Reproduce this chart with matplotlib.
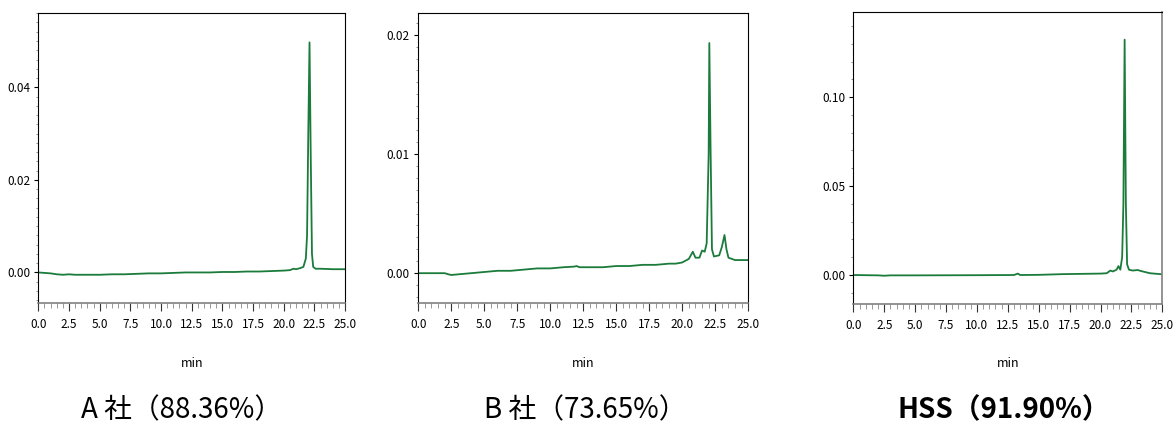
import numpy as np
import matplotlib
matplotlib.use('Agg')
import matplotlib.pyplot as plt
from matplotlib.ticker import MultipleLocator, FormatStrFormatter

plt.rcParams['font.family'] = ['Noto Sans CJK JP', 'DejaVu Sans']

# クロマトグラムのデータ
a_time = [0.0, 0.5, 1.0, 1.5, 2.0, 2.5, 3.0, 4.0, 5.0, 6.0, 7.0, 8.0, 9.0, 10.0,
          11.0, 12.0, 13.0, 14.0, 15.0, 16.0, 17.0, 18.0, 19.0, 20.0, 20.5, 20.8,
          21.0, 21.3, 21.6, 21.8, 21.9, 22.0, 22.1, 22.2, 22.3, 22.4, 22.6, 23.0,
          24.0, 25.0]
a_abs = [0.0000, -0.0001, -0.0002, -0.0004, -0.0005, -0.0004, -0.0005, -0.0005,
         -0.0005, -0.0004, -0.0004, -0.0003, -0.0002, -0.0002, -0.0001, 0.0000,
         0.0000, 0.0000, 0.0001, 0.0001, 0.0002, 0.0002, 0.0003, 0.0004, 0.0005,
         0.0008, 0.0007, 0.0009, 0.0012, 0.0030, 0.0080, 0.0300, 0.0497, 0.0250,
         0.0040, 0.0012, 0.0008, 0.0008, 0.0007, 0.0007]

b_time = [0.0, 1.0, 2.0, 2.3, 2.5, 3.0, 4.0, 5.0, 6.0, 7.0, 8.0, 9.0, 10.0, 11.0,
          11.8, 12.0, 12.2, 13.0, 14.0, 15.0, 16.0, 17.0, 17.5, 18.0, 19.0, 19.5,
          20.0, 20.5, 20.8, 21.0, 21.3, 21.5, 21.7, 21.85, 22.0, 22.05, 22.15,
          22.25, 22.4, 22.8, 23.0, 23.2, 23.35, 23.5, 24.0, 25.0]
b_abs = [0.0000, 0.0000, 0.0000, -0.0001, -0.00015, -0.0001, 0.0000, 0.0001,
         0.0002, 0.0002, 0.0003, 0.0004, 0.0004, 0.0005, 0.00055, 0.0006, 0.0005,
         0.0005, 0.0005, 0.0006, 0.0006, 0.0007, 0.0007, 0.0007, 0.0008, 0.0008,
         0.0009, 0.0012, 0.0018, 0.0013, 0.0013, 0.0019, 0.0018, 0.0025, 0.0100,
         0.0193, 0.0100, 0.0020, 0.0014, 0.0015, 0.0022, 0.0032, 0.0020, 0.0013,
         0.0011, 0.0011]

hss_time = [0.0, 2.0, 2.5, 3.0, 5.0, 10.0, 13.0, 13.3, 13.5, 15.0, 16.0, 17.0,
            18.0, 19.0, 20.0, 20.5, 20.8, 21.0, 21.3, 21.45, 21.6, 21.75, 21.85,
            21.95, 22.05, 22.15, 22.3, 22.6, 23.0, 23.3, 24.0, 25.0]
hss_abs = [0.0000, -0.0002, -0.0004, -0.0002, -0.0002, -0.0001, 0.0000, 0.0008,
           0.0000, 0.0001, 0.0003, 0.0005, 0.0006, 0.0007, 0.0008, 0.0010, 0.0025,
           0.0020, 0.0030, 0.0050, 0.0030, 0.0100, 0.0400, 0.1323, 0.0400, 0.0060,
           0.0030, 0.0025, 0.0028, 0.0022, 0.0010, 0.0004]

titles = ['A 社（88.36%）', 'B 社（73.65%）', 'HSS（91.90%）']
y_ticks = [[0.0, 0.02, 0.04], [0.0, 0.01, 0.02], [0.0, 0.05, 0.10]]

line_color = '#1b7b3b'

fig = plt.figure(figsize=(11.73, 4.23), dpi=100)

# 各パネルの位置とy範囲
panels = [
    ([0.0327, 0.2837, 0.2615, 0.685], (-0.0066, 0.056), 0.002, a_time, a_abs, 182),
    ([0.3566, 0.2837, 0.2813, 0.685], (-0.0025, 0.0218), 0.001, b_time, b_abs, 585),
    ([0.7275, 0.2813, 0.2634, 0.691], (-0.0163, 0.148), 0.01, hss_time, hss_abs, 1004),
]

for i, (rect, ylim, yminor, t, y, title_x) in enumerate(panels):
    ax = fig.add_axes(rect)
    ax.plot(t, y, color=line_color, lw=1.3)
    ax.set_xlim(0, 25)
    ax.set_ylim(*ylim)
    ax.xaxis.set_major_locator(MultipleLocator(2.5))
    ax.xaxis.set_minor_locator(MultipleLocator(0.5))
    ax.xaxis.set_major_formatter(FormatStrFormatter('%.1f'))
    ax.set_yticks(y_ticks[i])
    ax.yaxis.set_minor_locator(MultipleLocator(yminor))
    ax.yaxis.set_major_formatter(FormatStrFormatter('%.2f'))
    ax.tick_params(axis='x', which='major', direction='out', length=6, width=0.8,
                   labelsize=8.5, pad=5, color='#333333')
    ax.tick_params(axis='x', which='minor', direction='out', length=3.5, width=0.6,
                   color='#888888')
    ax.tick_params(axis='y', which='major', direction='out', length=3, width=0.8,
                   labelsize=8.5, pad=3)
    ax.tick_params(axis='y', which='minor', direction='out', length=1.5, width=0.5,
                   color='#666666')
    ax.spines['bottom'].set_color('#808080')
    ax.spines['bottom'].set_linewidth(1.2)
    for s in ['left', 'top', 'right']:
        ax.spines[s].set_linewidth(0.8)
    if i == 2:
        ax.spines['right'].set_color('#808080')
        ax.spines['right'].set_linewidth(1.2)

    cx = rect[0] + rect[2] / 2
    fig.text(cx, 1 - 363 / 423, 'min', ha='center', va='center', fontsize=9)
    fig.text(title_x / 1173, 1 - 410 / 423, titles[i], ha='center', va='center',
             fontsize=20, fontweight='bold' if i == 2 else 'normal')

fig.savefig('out.png', dpi=100)
